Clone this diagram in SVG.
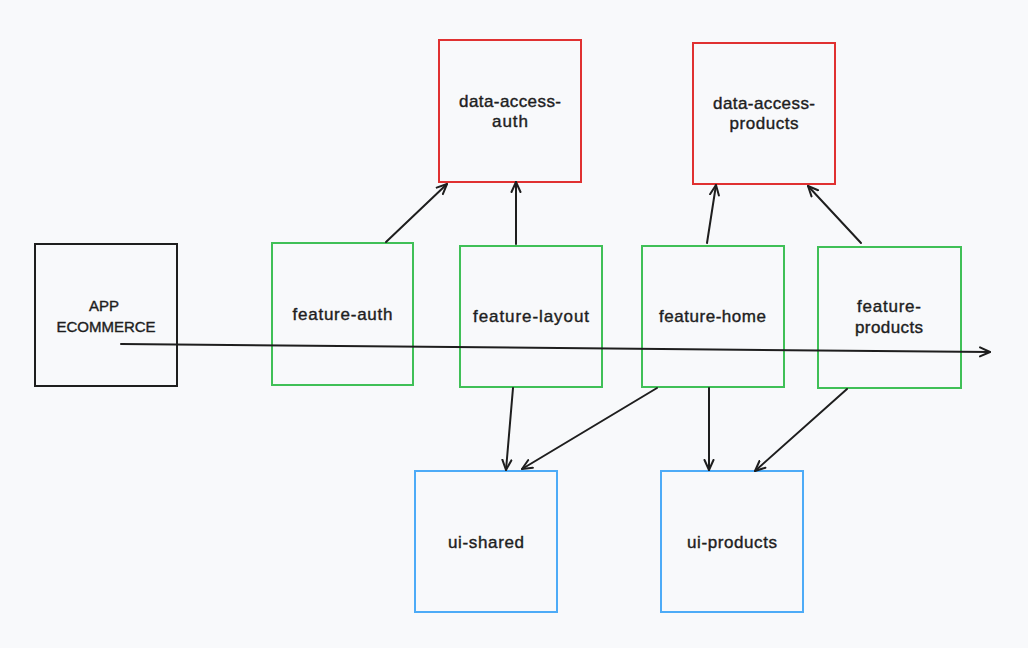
<svg xmlns="http://www.w3.org/2000/svg" width="1028" height="648" viewBox="0 0 1028 648">
<style>
.box{fill:none;stroke-width:2}
.k{stroke:#1e1e1e}
.g{stroke:#40c057}
.r{stroke:#e03131}
.b{stroke:#4dabf7}
.t{font-family:"Liberation Sans",Arial,sans-serif;font-size:17px;fill:#1e1e1e;stroke:#1e1e1e;stroke-width:0.4;text-anchor:middle}
.u{font-size:15px}
.c{fill:none;stroke:#1e1e1e;stroke-width:2;stroke-linecap:round}
</style>
<defs>
<marker id="ah" viewBox="0 0 12 12" refX="11" refY="6" markerWidth="12" markerHeight="12" markerUnits="userSpaceOnUse" orient="auto">
<path d="M1,1.5 L11,6 L1,10.5" fill="none" stroke="#1e1e1e" stroke-width="2" stroke-linecap="round" stroke-linejoin="round"/>
</marker>
</defs>
<rect width="1028" height="648" fill="#f8f9fb"/>
<g id="app">
<rect class="box k" x="35" y="244" width="142" height="142"/>
<text class="t u" x="104" y="311">APP</text>
<text class="t u" x="106" y="332">ECOMMERCE</text>
</g>
<g id="feature-auth">
<rect class="box g" x="272" y="243" width="141" height="142"/>
<text class="t" x="342.5" y="320" textLength="100">feature-auth</text>
</g>
<g id="feature-layout">
<rect class="box g" x="460" y="246" width="142" height="141"/>
<text class="t" x="531" y="322" textLength="116">feature-layout</text>
</g>
<g id="feature-home">
<rect class="box g" x="642" y="246" width="142" height="141"/>
<text class="t" x="712.5" y="322" textLength="107">feature-home</text>
</g>
<g id="feature-products">
<rect class="box g" x="818" y="247" width="143" height="141"/>
<text class="t" x="889" y="312" textLength="64">feature-</text>
<text class="t" x="889" y="333" textLength="68">products</text>
</g>
<g id="data-access-auth">
<rect class="box r" x="439" y="40" width="142" height="142"/>
<text class="t" x="510" y="107" textLength="102">data-access-</text>
<text class="t" x="510" y="127" textLength="36">auth</text>
</g>
<g id="data-access-products">
<rect class="box r" x="693" y="43" width="142" height="141"/>
<text class="t" x="764" y="109" textLength="102">data-access-</text>
<text class="t" x="764" y="129" textLength="69">products</text>
</g>
<g id="ui-shared">
<rect class="box b" x="415" y="471" width="142" height="141"/>
<text class="t" x="486" y="548" textLength="76">ui-shared</text>
</g>
<g id="ui-products">
<rect class="box b" x="661" y="471" width="142" height="141"/>
<text class="t" x="732" y="548" textLength="90">ui-products</text>
</g>
<g id="connectors">
<path class="c" d="M386,242 L447,184" marker-end="url(#ah)"/>
<path class="c" d="M516,244 L516,182" marker-end="url(#ah)"/>
<path class="c" d="M707,243 L716,185" marker-end="url(#ah)"/>
<path class="c" d="M861,243 L808,186" marker-end="url(#ah)"/>
<path class="c" d="M513,388 L506,470" marker-end="url(#ah)"/>
<path class="c" d="M657,388 L522,469" marker-end="url(#ah)"/>
<path class="c" d="M709,388 L709,470" marker-end="url(#ah)"/>
<path class="c" d="M847,389 L755,471" marker-end="url(#ah)"/>
<path class="c" d="M121,344 L990,352" marker-end="url(#ah)"/>
</g>
</svg>
